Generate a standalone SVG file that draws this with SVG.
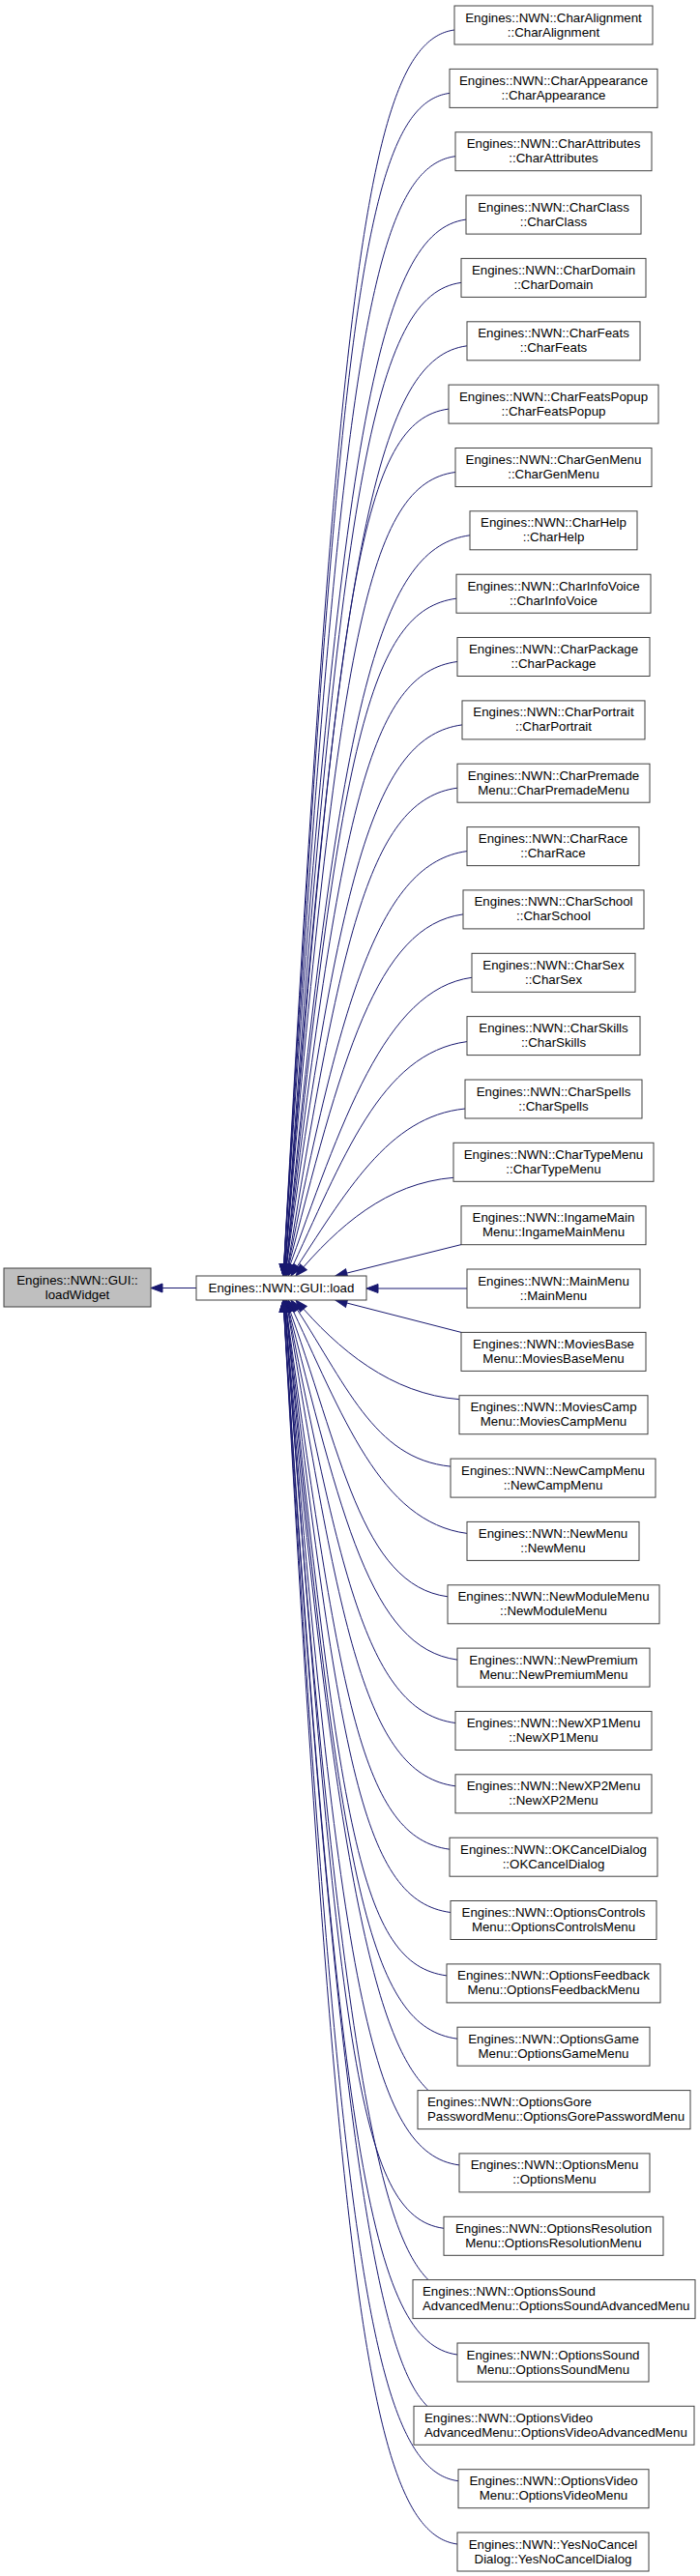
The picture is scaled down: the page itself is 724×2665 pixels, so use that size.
<svg xmlns="http://www.w3.org/2000/svg" width="724" height="2665" viewBox="0 0 724 2665">
<style>
.n rect{fill:#ffffff;stroke:#404040;stroke-width:1}
#node-loadWidget rect{fill:#bfbfbf}
text{font-family:"Liberation Sans",Arial,Helvetica,sans-serif;font-size:13.3px;fill:#000}
.c text{text-anchor:middle}
.l text{text-anchor:start}
.e path{fill:none;stroke:#191970;stroke-width:1;marker-end:url(#a)}
</style>
<defs>
<marker id="a" markerUnits="userSpaceOnUse" markerWidth="13" markerHeight="10" refX="12" refY="4.5" orient="auto" overflow="visible">
<path d="M0,0 L12,4.5 L0,9 Z" fill="#191970" stroke="#191970" stroke-width="1"/>
</marker>
</defs>
<rect width="724" height="2665" fill="#ffffff"/>
<g id="connectors" class="e">
<path d="M203,1332.5 L156,1332.5"/>
<path d="M470,31 C380,43 350,288.8 293,1320"/>
<path d="M465,96.4 C375,108.4 350,341.1 293,1320"/>
<path d="M471,161.7 C381,173.7 350,393.4 293,1320"/>
<path d="M482,227.1 C392,239.1 350,445.7 293,1320"/>
<path d="M477,292.4 C387,304.4 351,497.9 294,1320"/>
<path d="M483,357.8 C393,369.8 351,550.2 294,1320"/>
<path d="M464,423.1 C374,435.1 351,602.5 294,1320"/>
<path d="M471,488.5 C381,500.5 351,654.8 294,1320"/>
<path d="M486,553.8 C396,565.8 352,707 295,1320"/>
<path d="M472,619.2 C382,631.2 352,769.2 295,1320"/>
<path d="M473,684.5 C383,696.5 352,834.5 295,1320"/>
<path d="M478,749.9 C388,761.9 352,899.9 295,1320"/>
<path d="M473,815.2 C383,827.2 353,965.2 296,1320"/>
<path d="M483,880.6 C393,892.6 353,1030.6 296,1320"/>
<path d="M479,945.9 C389,957.9 353,1095.9 296,1320"/>
<path d="M488,1011.3 C398,1023.3 353,1161.3 296,1320"/>
<path d="M483,1077.6 C393,1089.6 355,1198.8 298,1320"/>
<path d="M481,1147 C401,1155 358,1233.5 301,1320"/>
<path d="M469,1218.3 C400,1224 350,1268 306,1320"/>
<path d="M477,1287.6 L347,1320"/>
<path d="M483,1333 L379,1333"/>
<path d="M477,1378.4 L347,1345"/>
<path d="M475,1447.7 C405,1442 350,1397 306,1345"/>
<path d="M466,1517.1 C386,1509.1 358,1431.1 301,1345"/>
<path d="M483,1586.4 C393,1574.4 355,1465.7 298,1345"/>
<path d="M463,1651.8 C373,1639.8 353,1501.8 296,1345"/>
<path d="M473,1717.1 C383,1705.1 353,1567.1 296,1345"/>
<path d="M471,1782.5 C381,1770.5 353,1632.5 296,1345"/>
<path d="M471,1847.8 C381,1835.8 353,1697.8 296,1345"/>
<path d="M465,1913.2 C375,1901.2 352,1763.2 295,1345"/>
<path d="M466,1978.5 C376,1966.5 352,1828.5 295,1345"/>
<path d="M462,2043.9 C372,2031.9 352,1893.9 295,1345"/>
<path d="M473,2109.2 C383,2097.2 352,1956.4 295,1345"/>
<path d="M443,2162.6 C398,2118 351,1999 294,1345"/>
<path d="M475,2239.9 C385,2227.9 351,2060.9 294,1345"/>
<path d="M459,2305.3 C369,2293.3 351,2113.2 294,1345"/>
<path d="M443,2358.6 C398,2314 351,2155.9 294,1345"/>
<path d="M473,2436 C383,2424 350,2217.8 293,1345"/>
<path d="M442,2489.3 C397,2445 350,2260.4 293,1345"/>
<path d="M474,2566.7 C384,2554.7 350,2322.4 293,1345"/>
<path d="M473,2632 C383,2620 350,2374.6 293,1345"/>
</g>
<g id="node-loadWidget" class="n c"><rect x="4" y="1312" width="152" height="40"/><text x="80" y="1328.5">Engines::NWN::GUI::<tspan x="80" dy="15">loadWidget</tspan></text></g>
<g id="node-load" class="n c"><rect x="203" y="1320" width="176" height="25"/><text x="291" y="1337">Engines::NWN::GUI::load</text></g>
<g id="node-CharAlignment" class="n c"><rect x="470" y="6" width="205" height="40"/><text x="572.5" y="22.5">Engines::NWN::CharAlignment<tspan x="572.5" dy="15">::CharAlignment</tspan></text></g>
<g id="node-CharAppearance" class="n c"><rect x="465" y="71.4" width="215" height="40"/><text x="572.5" y="87.9">Engines::NWN::CharAppearance<tspan x="572.5" dy="15">::CharAppearance</tspan></text></g>
<g id="node-CharAttributes" class="n c"><rect x="471" y="136.7" width="203" height="40"/><text x="572.5" y="153.2">Engines::NWN::CharAttributes<tspan x="572.5" dy="15">::CharAttributes</tspan></text></g>
<g id="node-CharClass" class="n c"><rect x="482" y="202.1" width="181" height="40"/><text x="572.5" y="218.6">Engines::NWN::CharClass<tspan x="572.5" dy="15">::CharClass</tspan></text></g>
<g id="node-CharDomain" class="n c"><rect x="477" y="267.4" width="191" height="40"/><text x="572.5" y="283.9">Engines::NWN::CharDomain<tspan x="572.5" dy="15">::CharDomain</tspan></text></g>
<g id="node-CharFeats" class="n c"><rect x="483" y="332.8" width="179" height="40"/><text x="572.5" y="349.3">Engines::NWN::CharFeats<tspan x="572.5" dy="15">::CharFeats</tspan></text></g>
<g id="node-CharFeatsPopup" class="n c"><rect x="464" y="398.1" width="217" height="40"/><text x="572.5" y="414.6">Engines::NWN::CharFeatsPopup<tspan x="572.5" dy="15">::CharFeatsPopup</tspan></text></g>
<g id="node-CharGenMenu" class="n c"><rect x="471" y="463.5" width="203" height="40"/><text x="572.5" y="480">Engines::NWN::CharGenMenu<tspan x="572.5" dy="15">::CharGenMenu</tspan></text></g>
<g id="node-CharHelp" class="n c"><rect x="486" y="528.8" width="173" height="40"/><text x="572.5" y="545.3">Engines::NWN::CharHelp<tspan x="572.5" dy="15">::CharHelp</tspan></text></g>
<g id="node-CharInfoVoice" class="n c"><rect x="472" y="594.2" width="201" height="40"/><text x="572.5" y="610.7">Engines::NWN::CharInfoVoice<tspan x="572.5" dy="15">::CharInfoVoice</tspan></text></g>
<g id="node-CharPackage" class="n c"><rect x="473" y="659.5" width="199" height="40"/><text x="572.5" y="676">Engines::NWN::CharPackage<tspan x="572.5" dy="15">::CharPackage</tspan></text></g>
<g id="node-CharPortrait" class="n c"><rect x="478" y="724.9" width="189" height="40"/><text x="572.5" y="741.4">Engines::NWN::CharPortrait<tspan x="572.5" dy="15">::CharPortrait</tspan></text></g>
<g id="node-CharPremadeMenu" class="n c"><rect x="473" y="790.2" width="199" height="40"/><text x="572.5" y="806.7">Engines::NWN::CharPremade<tspan x="572.5" dy="15">Menu::CharPremadeMenu</tspan></text></g>
<g id="node-CharRace" class="n c"><rect x="483" y="855.6" width="178" height="40"/><text x="572" y="872.1">Engines::NWN::CharRace<tspan x="572" dy="15">::CharRace</tspan></text></g>
<g id="node-CharSchool" class="n c"><rect x="479" y="920.9" width="187" height="40"/><text x="572.5" y="937.4">Engines::NWN::CharSchool<tspan x="572.5" dy="15">::CharSchool</tspan></text></g>
<g id="node-CharSex" class="n c"><rect x="488" y="986.3" width="169" height="40"/><text x="572.5" y="1002.8">Engines::NWN::CharSex<tspan x="572.5" dy="15">::CharSex</tspan></text></g>
<g id="node-CharSkills" class="n c"><rect x="483" y="1051.6" width="179" height="40"/><text x="572.5" y="1068.1">Engines::NWN::CharSkills<tspan x="572.5" dy="15">::CharSkills</tspan></text></g>
<g id="node-CharSpells" class="n c"><rect x="481" y="1117" width="183" height="40"/><text x="572.5" y="1133.5">Engines::NWN::CharSpells<tspan x="572.5" dy="15">::CharSpells</tspan></text></g>
<g id="node-CharTypeMenu" class="n c"><rect x="469" y="1182.3" width="207" height="40"/><text x="572.5" y="1198.8">Engines::NWN::CharTypeMenu<tspan x="572.5" dy="15">::CharTypeMenu</tspan></text></g>
<g id="node-IngameMainMenu" class="n c"><rect x="477" y="1247.7" width="191" height="40"/><text x="572.5" y="1264.2">Engines::NWN::IngameMain<tspan x="572.5" dy="15">Menu::IngameMainMenu</tspan></text></g>
<g id="node-MainMenu" class="n c"><rect x="483" y="1313" width="179" height="40"/><text x="572.5" y="1329.5">Engines::NWN::MainMenu<tspan x="572.5" dy="15">::MainMenu</tspan></text></g>
<g id="node-MoviesBaseMenu" class="n c"><rect x="477" y="1378.4" width="191" height="40"/><text x="572.5" y="1394.9">Engines::NWN::MoviesBase<tspan x="572.5" dy="15">Menu::MoviesBaseMenu</tspan></text></g>
<g id="node-MoviesCampMenu" class="n c"><rect x="475" y="1443.7" width="195" height="40"/><text x="572.5" y="1460.2">Engines::NWN::MoviesCamp<tspan x="572.5" dy="15">Menu::MoviesCampMenu</tspan></text></g>
<g id="node-NewCampMenu" class="n c"><rect x="466" y="1509.1" width="212" height="40"/><text x="572" y="1525.6">Engines::NWN::NewCampMenu<tspan x="572" dy="15">::NewCampMenu</tspan></text></g>
<g id="node-NewMenu" class="n c"><rect x="483" y="1574.4" width="178" height="40"/><text x="572" y="1590.9">Engines::NWN::NewMenu<tspan x="572" dy="15">::NewMenu</tspan></text></g>
<g id="node-NewModuleMenu" class="n c"><rect x="463" y="1639.8" width="219" height="40"/><text x="572.5" y="1656.3">Engines::NWN::NewModuleMenu<tspan x="572.5" dy="15">::NewModuleMenu</tspan></text></g>
<g id="node-NewPremiumMenu" class="n c"><rect x="473" y="1705.1" width="199" height="40"/><text x="572.5" y="1721.6">Engines::NWN::NewPremium<tspan x="572.5" dy="15">Menu::NewPremiumMenu</tspan></text></g>
<g id="node-NewXP1Menu" class="n c"><rect x="471" y="1770.5" width="203" height="40"/><text x="572.5" y="1787">Engines::NWN::NewXP1Menu<tspan x="572.5" dy="15">::NewXP1Menu</tspan></text></g>
<g id="node-NewXP2Menu" class="n c"><rect x="471" y="1835.8" width="203" height="40"/><text x="572.5" y="1852.3">Engines::NWN::NewXP2Menu<tspan x="572.5" dy="15">::NewXP2Menu</tspan></text></g>
<g id="node-OKCancelDialog" class="n c"><rect x="465" y="1901.2" width="215" height="40"/><text x="572.5" y="1917.7">Engines::NWN::OKCancelDialog<tspan x="572.5" dy="15">::OKCancelDialog</tspan></text></g>
<g id="node-OptionsControlsMenu" class="n c"><rect x="466" y="1966.5" width="213" height="40"/><text x="572.5" y="1983">Engines::NWN::OptionsControls<tspan x="572.5" dy="15">Menu::OptionsControlsMenu</tspan></text></g>
<g id="node-OptionsFeedbackMenu" class="n c"><rect x="462" y="2031.9" width="221" height="40"/><text x="572.5" y="2048.4">Engines::NWN::OptionsFeedback<tspan x="572.5" dy="15">Menu::OptionsFeedbackMenu</tspan></text></g>
<g id="node-OptionsGameMenu" class="n c"><rect x="473" y="2097.2" width="199" height="40"/><text x="572.5" y="2113.7">Engines::NWN::OptionsGame<tspan x="572.5" dy="15">Menu::OptionsGameMenu</tspan></text></g>
<g id="node-OptionsGorePasswordMenu" class="n l"><rect x="432" y="2162.6" width="282" height="40"/><text x="442" y="2179.1">Engines::NWN::OptionsGore<tspan x="442" dy="15">PasswordMenu::OptionsGorePasswordMenu</tspan></text></g>
<g id="node-OptionsMenu" class="n c"><rect x="475" y="2227.9" width="197" height="40"/><text x="573.5" y="2244.4">Engines::NWN::OptionsMenu<tspan x="573.5" dy="15">::OptionsMenu</tspan></text></g>
<g id="node-OptionsResolutionMenu" class="n c"><rect x="459" y="2293.3" width="227" height="40"/><text x="572.5" y="2309.8">Engines::NWN::OptionsResolution<tspan x="572.5" dy="15">Menu::OptionsResolutionMenu</tspan></text></g>
<g id="node-OptionsSoundAdvancedMenu" class="n l"><rect x="427" y="2358.6" width="292" height="40"/><text x="437" y="2375.1">Engines::NWN::OptionsSound<tspan x="437" dy="15">AdvancedMenu::OptionsSoundAdvancedMenu</tspan></text></g>
<g id="node-OptionsSoundMenu" class="n c"><rect x="473" y="2424" width="198" height="40"/><text x="572" y="2440.5">Engines::NWN::OptionsSound<tspan x="572" dy="15">Menu::OptionsSoundMenu</tspan></text></g>
<g id="node-OptionsVideoAdvancedMenu" class="n l"><rect x="428" y="2489.3" width="290" height="40"/><text x="439" y="2505.8">Engines::NWN::OptionsVideo<tspan x="439" dy="15">AdvancedMenu::OptionsVideoAdvancedMenu</tspan></text></g>
<g id="node-OptionsVideoMenu" class="n c"><rect x="474" y="2554.7" width="197" height="40"/><text x="572.5" y="2571.2">Engines::NWN::OptionsVideo<tspan x="572.5" dy="15">Menu::OptionsVideoMenu</tspan></text></g>
<g id="node-YesNoCancelDialog" class="n c"><rect x="473" y="2620" width="198" height="40"/><text x="572" y="2636.5">Engines::NWN::YesNoCancel<tspan x="572" dy="15">Dialog::YesNoCancelDialog</tspan></text></g>
</svg>
